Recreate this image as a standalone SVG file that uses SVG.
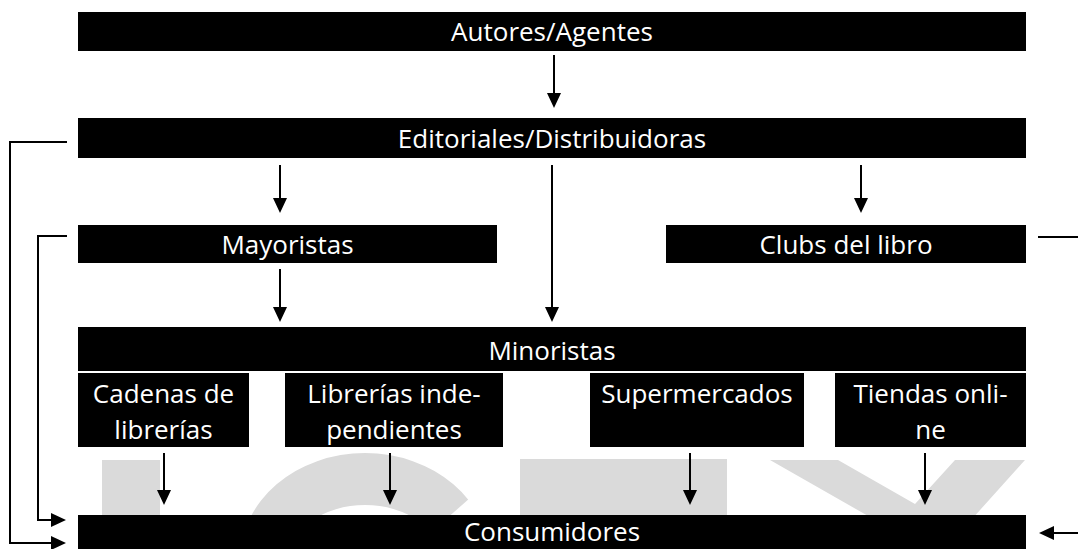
<svg xmlns="http://www.w3.org/2000/svg" width="1078" height="549" viewBox="0 0 1078 549">
<style>
.box{fill:#000}
.lbl{fill:#fff;font-family:"Open Sans","Noto Sans","Liberation Sans",sans-serif;font-size:26px;text-anchor:middle}
.wm{fill:#dadada}
.con{stroke:#000;stroke-width:2;fill:none}
.arr{stroke:#000;stroke-width:2;fill:none;marker-end:url(#ah)}
</style>
<defs>
<marker id="ah" markerUnits="userSpaceOnUse" markerWidth="16" markerHeight="14" viewBox="0 0 16 14" refX="13" refY="7" orient="auto">
<path d="M0,0 L15,7 L0,14 z" fill="#000"/>
</marker>
<clipPath id="cring"><polygon points="150,440 536,440 412,549 150,549"/></clipPath>
</defs>
<rect width="1078" height="549" fill="#fff"/>
<g id="watermark">
<rect class="wm" x="102" y="460" width="58" height="60"/>
<path class="wm" clip-path="url(#cring)" fill-rule="evenodd" d="M240,560 A125,107 0 1 1 490,560 A125,107 0 1 1 240,560 Z M289,560 A76,55 0 1 0 441,560 A76,55 0 1 0 289,560 Z"/>
<rect class="wm" x="520" y="459" width="207" height="60"/>
<polygon class="wm" points="770,460 838,460 915,504 955,460 1025,460 945,549 926,549"/>
</g>
<g id="autores"><rect class="box" x="78" y="12" width="948" height="39"/><text class="lbl" x="552" y="41">Autores/Agentes</text></g>
<g id="editoriales"><rect class="box" x="78" y="118" width="948" height="40"/><text class="lbl" x="552" y="148">Editoriales/Distribuidoras</text></g>
<g id="mayoristas"><rect class="box" x="78" y="225" width="419" height="38"/><text class="lbl" x="287.5" y="254">Mayoristas</text></g>
<g id="clubs"><rect class="box" x="666" y="225" width="360" height="38"/><text class="lbl" x="846" y="254">Clubs del libro</text></g>
<g id="minoristas"><rect class="box" x="78" y="327" width="948" height="44"/><text class="lbl" x="552" y="360">Minoristas</text></g>
<g id="cadenas"><rect class="box" x="78" y="373" width="171" height="74"/><text class="lbl" x="163.5" y="403">Cadenas de</text><text class="lbl" x="163.5" y="439">librerías</text></g>
<g id="independientes"><rect class="box" x="285" y="373" width="218" height="74"/><text class="lbl" x="394" y="403">Librerías inde-</text><text class="lbl" x="394" y="439">pendientes</text></g>
<g id="supermercados"><rect class="box" x="590" y="373" width="214" height="74"/><text class="lbl" x="697" y="403">Supermercados</text></g>
<g id="online"><rect class="box" x="835" y="373" width="191" height="74"/><text class="lbl" x="930.5" y="403">Tiendas onli-</text><text class="lbl" x="930.5" y="439">ne</text></g>
<g id="consumidores"><rect class="box" x="78" y="515" width="948" height="34"/><text class="lbl" x="552" y="541">Consumidores</text></g>
<g id="connectors">
<line class="arr" x1="554" y1="55" x2="554" y2="106"/>
<line class="arr" x1="280" y1="165" x2="280" y2="211"/>
<line class="arr" x1="552" y1="165" x2="552" y2="320"/>
<line class="arr" x1="861" y1="165" x2="861" y2="211"/>
<line class="arr" x1="280" y1="269" x2="280" y2="320"/>
<line class="arr" x1="164" y1="453" x2="164" y2="503"/>
<line class="arr" x1="390" y1="453" x2="390" y2="503"/>
<line class="arr" x1="690" y1="453" x2="690" y2="503"/>
<line class="arr" x1="925" y1="453" x2="925" y2="503"/>
<polyline class="arr" points="67,142 10,142 10,543 64,543"/>
<polyline class="arr" points="67,236 38,236 38,520 64,520"/>
<line class="con" x1="1038" y1="237" x2="1078" y2="237"/>
<line class="arr" x1="1078" y1="533" x2="1041" y2="533"/>
</g>
</svg>
